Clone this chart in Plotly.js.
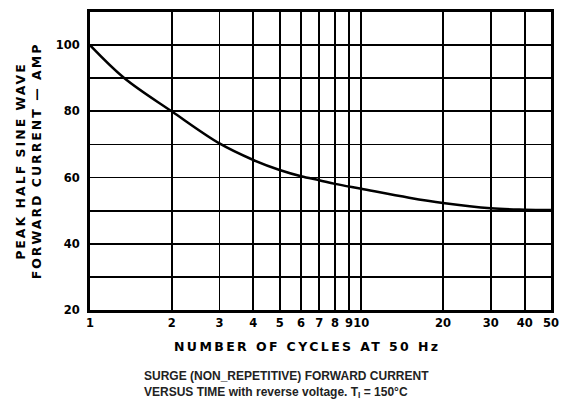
<!DOCTYPE html>
<html>
<head>
<meta charset="utf-8">
<script src="https://cdn.plot.ly/plotly-3.0.1.min.js"></script>
<style>
html,body{margin:0;padding:0;background:#fff;}
#chart{width:564px;height:407px;}
.annotation[data-index="0"] text{letter-spacing:2.4px;}
.ytitle{letter-spacing:2.0px;}
</style>
</head>
<body>
<div id="chart"></div>
<script>
// Data
const cycles = [1, 1.34, 2, 3, 4, 5, 6, 7, 8, 10, 15, 20, 30, 40, 50];
const peakCurrent = [100, 90, 80, 70.3, 65.3, 62.3, 60.4, 59.2, 58.1, 56.6, 53.9, 52.3, 50.7, 50.3, 50.2];

const xTickVals = [1, 2, 3, 4, 5, 6, 7, 8, 9, 10, 20, 30, 40, 50];
const xTickText = ['1', '2', '3', '4', '5', '6', '7', '8', '9', '10', '20', '30', '40', '50'];
const yTickVals = [20, 40, 60, 80, 100];
const yTickText = ['20', '40', '60', '80', '100'];

const xTitle = 'NUMBER OF CYCLES AT 50 Hz';
const yTitle = 'PEAK HALF SINE WAVE<br>FORWARD CURRENT — AMP';
const caption = '<b>SURGE (NON_REPETITIVE) FORWARD CURRENT<br>VERSUS TIME with reverse voltage. T<sub>I</sub> = 150°C</b>';

const tickFont = {family: 'DejaVu Sans', size: 11.5, color: '#000', weight: 700};
const titleFont = {family: 'DejaVu Sans', size: 12.5, color: '#000', weight: 600};

const trace = {
  x: cycles,
  y: peakCurrent,
  type: 'scatter',
  mode: 'lines',
  line: {color: '#000', width: 2.5, shape: 'spline', smoothing: 1},
  hoverinfo: 'skip'
};

const layout = {
  width: 564,
  height: 407,
  margin: {l: 90, r: 13, t: 12, b: 97},
  paper_bgcolor: '#fff',
  plot_bgcolor: '#fff',
  showlegend: false,
  xaxis: {
    type: 'log',
    range: [0, 1.6992],
    tickvals: xTickVals,
    ticktext: xTickText,
    tickfont: tickFont,
    tickangle: 0,
    ticks: '',
    showgrid: true,
    gridcolor: '#000',
    gridwidth: 1.8,
    showline: true,
    linecolor: '#000',
    linewidth: 3,
    mirror: true,
    zeroline: false
  },
  yaxis: {
    range: [20, 110],
    tickvals: yTickVals,
    ticktext: yTickText,
    tickfont: tickFont,
    ticks: '',
    ticklabelstandoff: 5,
    showgrid: true,
    gridcolor: '#000',
    gridwidth: 1.8,
    minor: {tick0: 30, dtick: 10, showgrid: true, gridcolor: '#000', gridwidth: 1.8, ticks: ''},
    showline: true,
    linecolor: '#000',
    linewidth: 3,
    mirror: true,
    zeroline: false,
    title: {text: yTitle, font: titleFont, standoff: 12}
  },
  annotations: [{
    xref: 'paper', yref: 'paper',
    x: 0.471, y: -0.123,
    xanchor: 'center', yanchor: 'middle',
    showarrow: false,
    text: xTitle,
    font: titleFont
  }, {
    xref: 'paper', yref: 'paper',
    x: 0.113, y: -0.19,
    xanchor: 'left', yanchor: 'top',
    align: 'left',
    showarrow: false,
    text: caption,
    font: {family: 'Liberation Sans', size: 12, color: '#222'}
  }]
};

Plotly.newPlot('chart', [trace], layout, {staticPlot: true, displayModeBar: false});
</script>
</body>
</html>
